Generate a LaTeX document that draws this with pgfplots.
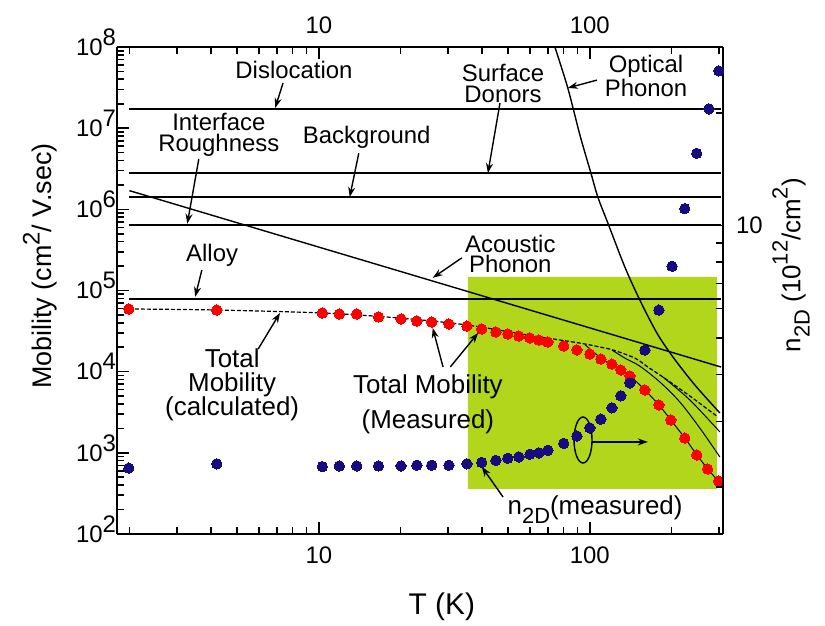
\documentclass[border=0pt]{standalone}
\usepackage{fontspec}
\setmainfont{Liberation Sans}
\usepackage{pgfplots}
\pgfplotsset{compat=1.18}
\usetikzlibrary{arrows.meta}
\definecolor{lime}{RGB}{178,214,28}
\definecolor{navy}{RGB}{22,12,128}
\definecolor{myred}{RGB}{255,0,0}
\newcommand{\fs}[1]{\fontsize{#1}{#1}\selectfont}
\newcommand{\tp}[1]{10\smash{\raisebox{5bp}{#1}}}
\tikzset{arr/.style={-{Stealth[length=5bp,width=3.5bp]}, line width=0.7bp},
  lab/.style={align=center, font=\fontsize{12}{10.5}\selectfont}}
\begin{document}
\begin{tikzpicture}
\begin{axis}[scale only axis, width=303bp, height=243.5bp,
  xmode=log, ymode=log, xmin=1.8, xmax=310, clip=false, tick align=inside,
  axis line style={line width=1bp}, major tick length=6bp, minor tick length=3.5bp,
  tick style={black, line width=0.8bp}, ticklabel style={font=\fs{12}},
  xtick={10,100}, xticklabels={10,100},
  minor xtick={2,3,4,5,6,7,8,9,20,30,40,50,60,70,80,90,200,300},
  xticklabel style={yshift=-3bp},
  axis x line*=bottom, axis y line*=left,
  ymin=1e2, ymax=1e8,
  ytick={1e2,1e3,1e4,1e5,1e6,1e7,1e8},
  yticklabels={\tp{2},\tp{3},\tp{4},\tp{5},\tp{6},\tp{7},\tp{8}},
  minor ytick={2e2,3e2,4e2,5e2,6e2,7e2,8e2,9e2,2e3,3e3,4e3,5e3,6e3,7e3,8e3,9e3,2e4,3e4,4e4,5e4,6e4,7e4,8e4,9e4,2e5,3e5,4e5,5e5,6e5,7e5,8e5,9e5,2e6,3e6,4e6,5e6,6e6,7e6,8e6,9e6,2e7,3e7,4e7,5e7,6e7,7e7,8e7,9e7},
  yticklabel style={xshift=3bp},
  xlabel={T (K)}, ylabel={Mobility (cm\raisebox{0.45em}{\fs{12}2}/ V.sec)},
  xlabel style={font=\fs{15}, at={(axis description cs:0.536,-0.15)}, anchor=center},
  ylabel style={font=\fs{13.5}, at={(axis description cs:-0.127,0.55)}, anchor=center}]
% shaded region
\addplot[fill=lime, draw=none] coordinates {(35.5,359) (294,359) (294,1.47e5) (35.5,1.47e5) (35.5,359)};
% constant-mobility limits
\addplot[black, line width=0.75bp] coordinates {(2,1.72e7) (305,1.72e7)};
\addplot[black, line width=0.75bp] coordinates {(2,2.8e6) (305,2.8e6)};
\addplot[black, line width=0.75bp] coordinates {(2,1.41e6) (305,1.41e6)};
\addplot[black, line width=0.75bp] coordinates {(2,6.4e5) (305,6.4e5)};
\addplot[black, line width=0.75bp] coordinates {(2,7.85e4) (305,7.85e4)};
% acoustic phonon
\addplot[black, line width=0.7bp] coordinates {(2,1.70e6) (305,1.14e4)};
% optical phonon
\addplot[black, line width=0.7bp, smooth] coordinates {(74.3,1e8) (82.9,3.13e7) (91.9,8.24e6) (100.9,2.8e6) (107,1.42e6) (116.5,6.79e5) (134.6,1.95e5) (152.9,7.64e4) (176.7,3.0e4) (202.5,1.52e4) (244,6.85e3) (301.8,3.1e3)};
% total calculated
\addplot[black, line width=0.6bp, dash pattern=on 2bp off 1bp, smooth] coordinates {(1.99,5.92e4) (4.2,5.75e4) (10.3,5.28e4) (19.9,4.58e4) (35.2,3.76e4) (60.1,2.8e4) (91.8,2.25e4) (108.9,2.01e4) (121.6,1.85e4) (146.6,1.47e4) (163.7,1.14e4) (186,8.6e3) (233.9,5.01e3) (296.7,2.77e3)};
\addplot[black, line width=0.5bp, smooth] coordinates {(96,2.15e4) (109.8,1.47e4) (123.7,1.14e4) (140.5,8.85e3) (159.6,5.95e3) (179.8,3.89e3) (199,2.54e3) (224.2,1.52e3) (248.2,942) (272.5,632) (301.8,425)};
\addplot[black, line width=0.5bp, smooth] coordinates {(120.6,1.85e4) (134.6,1.47e4) (152.9,1.17e4) (181.3,7.46e3) (214.8,4.23e3) (254.6,2.02e3) (301.8,890)};
\addplot[black, line width=0.5bp, smooth] coordinates {(186,8.6e3) (233.9,4.48e3) (301.8,1.81e3)};
% measured mobility
\addplot[only marks, mark=*, color=myred, mark size=2.6bp, mark options={fill=myred, draw=myred, line width=0pt}] coordinates {(1.99,5.92e4) (4.2,5.75e4) (10.3,5.28e4) (11.9,5.14e4) (13.8,5.14e4) (16.6,4.72e4) (20.1,4.46e4) (23.0,4.21e4) (26.1,4.09e4) (30.2,3.87e4) (35.2,3.65e4) (39.9,3.36e4) (45.0,3.08e4) (49.8,2.91e4) (54.7,2.75e4) (60.1,2.60e4) (64.9,2.45e4) (70.0,2.32e4) (80.1,2.07e4) (89.6,1.85e4) (100,1.65e4) (109.8,1.43e4) (120.6,1.24e4) (130.1,1.05e4) (140.5,8.85e3) (159.6,5.95e3) (179.8,3.89e3) (199,2.54e3) (224,1.52e3) (248,942) (272,632) (299,450)};
% annotations
\node[lab] at (rel axis cs:0.292,0.953) {Dislocation};
\draw[arr] (rel axis cs:0.274,0.926) -- (rel axis cs:0.261,0.875);
\node[lab] at (rel axis cs:0.168,0.819) {Interface\\Roughness};
\draw[arr] (rel axis cs:0.135,0.770) -- (rel axis cs:0.116,0.637);
\node[lab] at (rel axis cs:0.412,0.815) {Background};
\draw[arr] (rel axis cs:0.399,0.782) -- (rel axis cs:0.384,0.692);
\node[lab] at (rel axis cs:0.637,0.926) {Surface\\Donors};
\draw[arr] (rel axis cs:0.632,0.885) -- (rel axis cs:0.612,0.741);
\node[lab] at (rel axis cs:0.873,0.940) {Optical\\Phonon};
\draw[arr] (rel axis cs:0.792,0.932) -- (rel axis cs:0.744,0.916);
\node[lab] at (rel axis cs:0.649,0.575) {Acoustic\\Phonon};
\draw[arr] (rel axis cs:0.569,0.567) -- (rel axis cs:0.521,0.526);
\node[lab] at (rel axis cs:0.157,0.573) {Alloy};
\draw[arr] (rel axis cs:0.140,0.542) -- (rel axis cs:0.129,0.487);
\node[align=center, font=\fontsize{13}{12.2}\selectfont] at (rel axis cs:0.190,0.306) {Total\\Mobility\\(calculated)};
\draw[arr] (rel axis cs:0.233,0.380) -- (rel axis cs:0.269,0.454);
\node[align=center, font=\fontsize{13}{17.5}\selectfont] at (rel axis cs:0.513,0.267) {Total Mobility\\(Measured)};
\draw[arr] (rel axis cs:0.538,0.343) -- (rel axis cs:0.521,0.423);
\draw[arr] (rel axis cs:0.550,0.343) -- (rel axis cs:0.596,0.413);
\node[anchor=base west, font=\fs{13}, inner sep=0pt] at (rel axis cs:0.644,0.041) {n\raisebox{-0.35em}{\fs{11}2D}(measured)};
\draw[arr] (rel axis cs:0.637,0.076) -- (rel axis cs:0.602,0.138);
\draw[line width=0.7bp] (rel axis cs:0.769,0.193) ellipse [x radius=4.5bp, y radius=11.5bp];
\draw[arr] (rel axis cs:0.784,0.189) -- (rel axis cs:0.876,0.189);
\end{axis}
\begin{axis}[scale only axis, width=303bp, height=243.5bp,
  xmode=log, ymode=log, xmin=1.8, xmax=310, clip=false, tick align=inside,
  axis line style={line width=1bp}, major tick length=6bp, minor tick length=3.5bp,
  tick style={black, line width=0.8bp}, ticklabel style={font=\fs{12}},
  xtick={10,100}, xticklabels={10,100},
  minor xtick={2,3,4,5,6,7,8,9,20,30,40,50,60,70,80,90,200,300},
  xticklabel style={yshift=3bp},
  axis x line*=top, axis y line*=right,
  ymin=1.5, ymax=30, ytick={10}, yticklabels={10},
  minor ytick={2,3,4,5,6,7,8,9,20,30}, yticklabel style={xshift=3bp},
  ylabel={n\raisebox{-0.35em}{\fs{11}2D} (10\raisebox{0.5em}{\fs{11}12}/cm\raisebox{0.5em}{\fs{11}2})},
  ylabel style={font=\fs{13}, at={(axis description cs:1.112,0.552)}, anchor=center}]
\addplot[only marks, mark=*, color=navy, mark size=2.6bp, mark options={fill=navy, draw=navy, line width=0pt}] coordinates {(1.99,2.25) (4.2,2.31) (10.3,2.27) (11.9,2.28) (13.8,2.28) (16.6,2.28) (20.1,2.28) (23.0,2.29) (26.1,2.29) (30.2,2.29) (35.2,2.31) (39.9,2.33) (45.0,2.36) (49.8,2.39) (54.7,2.41) (60.1,2.45) (64.9,2.47) (70.0,2.51) (80.1,2.62) (89.6,2.74) (100,2.88) (109.8,3.04) (120.6,3.26) (130.1,3.51) (140.5,3.80) (159.6,4.65) (179.8,5.95) (201,7.79) (224,11.1) (248,15.6) (275,20.5) (299,25.9)};
\end{axis}
\pgfresetboundingbox
\path[use as bounding box] (-58.5bp,-46bp) rectangle (354bp,267bp);
\end{tikzpicture}
\end{document}
